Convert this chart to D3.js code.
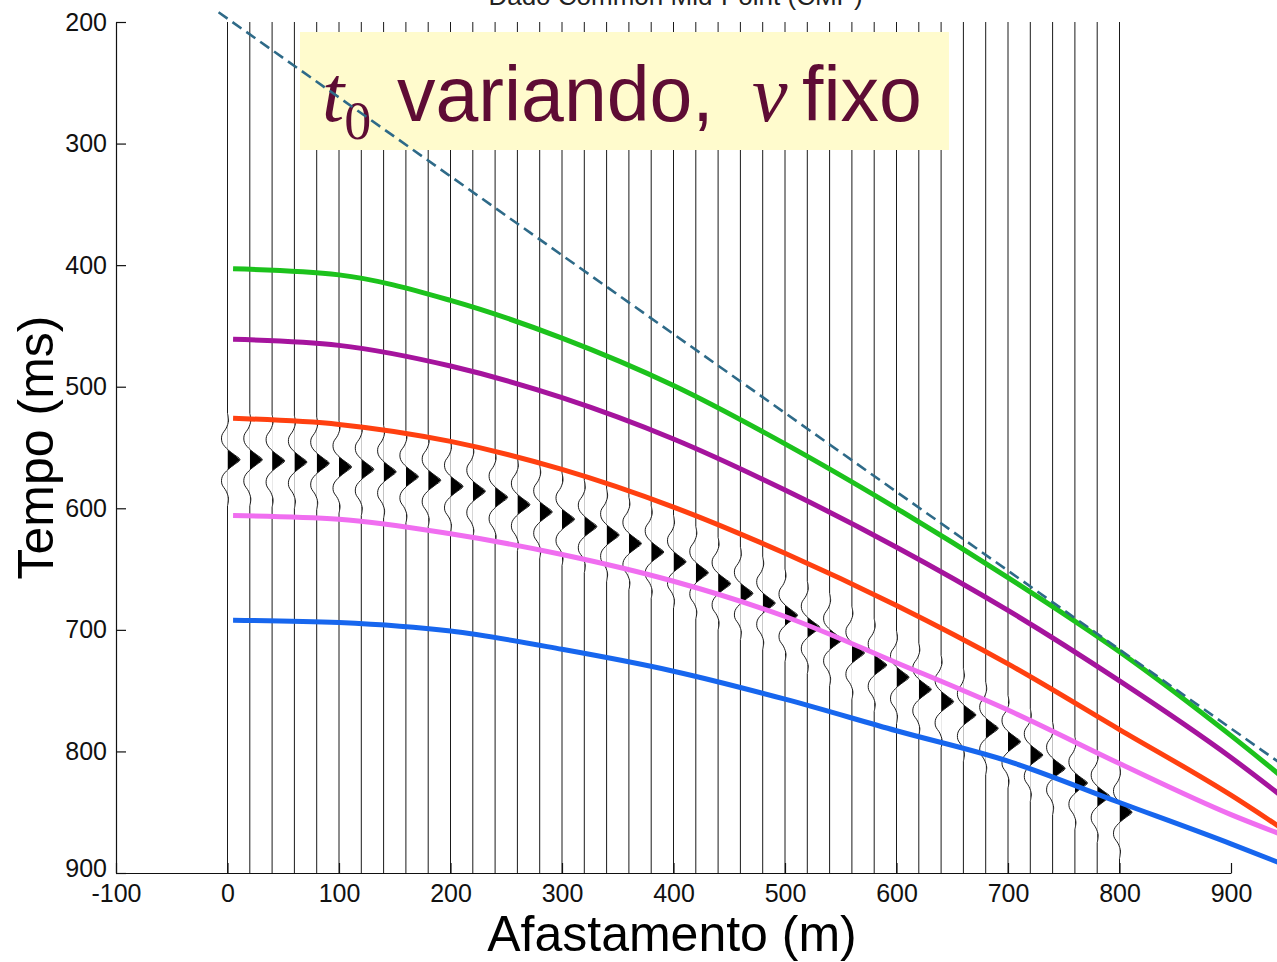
<!DOCTYPE html>
<html>
<head>
<meta charset="utf-8">
<script src="https://cdn.jsdelivr.net/npm/d3@7"></script>
<style>
  body { margin: 0; background: #ffffff; }
  svg { display: block; }
</style>
</head>
<body>
<svg id="chart" width="1277" height="962"></svg>
<script>
// ---- data -------------------------------------------------------------
// receiver offsets of the CMP traces (m)
const traceOffsets = [0, 20, 40, 60, 80, 100, 120, 140, 160, 180, 200, 220, 240, 260, 280,
  300, 320, 340, 360, 380, 400, 420, 440, 460, 480, 500, 520, 540, 560, 580, 600, 620, 640,
  660, 680, 700, 720, 740, 760, 780, 800];
// arrival time of the reflection peak on each trace (ms)
const wavePeakMs = [560, 560, 561, 562, 563, 566, 568, 570, 574, 577, 582, 586, 591, 597, 603,
  609, 615, 622, 629, 636, 644, 653, 662, 670, 678, 688, 698, 708, 719, 729, 739, 749, 759,
  770, 781, 792, 803, 814, 826, 837, 850];
// wavelet samples: lag from the peak (ms) and relative amplitude
const waveletLagMs = [-38, -32, -26, -20, -14, -8, -4, 0, 4, 8, 14, 20, 26, 32, 38];
const waveletAmp   = [0, 0.08, -0.1, -0.45, -0.42, 0.05, 0.55, 1, 0.55, 0.05, -0.42, -0.45, -0.1, 0.08, 0];

// traveltime curves for different t0 at a fixed velocity
const curveOffsets = [5, 100, 200, 300, 400, 500, 600, 700, 800, 900, 950];
const greenMs   = [403, 408, 429, 460, 499, 547, 600, 657, 718, 787, 824];
const magentaMs = [461, 466, 483, 509, 543, 585, 632, 684, 742, 805, 840];
const orangeMs  = [526, 531, 545, 568, 599, 637, 680, 728, 782, 836, 866];
const pinkMs    = [606, 609, 621, 638, 660, 689, 727, 766, 810, 852, 870];
const blueMs    = [692, 694, 701, 716, 734, 757, 783, 808, 842, 876, 894];

// direct-arrival guide line (offset m, time ms)
const guideOffsets = [-8, 960];
const guideMs = [192, 820];

const xTicks = [-100, 0, 100, 200, 300, 400, 500, 600, 700, 800, 900];
const yTicks = [200, 300, 400, 500, 600, 700, 800, 900];

// ---- scales -----------------------------------------------------------
const svg = d3.select("#chart");
svg.append("rect").attr("width", 1277).attr("height", 962).attr("fill", "#ffffff");

const x = d3.scaleLinear().domain([-100, 900]).range([116, 1231]);
const y = d3.scaleLinear().domain([200, 900]).range([22, 873]);

const sans = "'Liberation Sans', Arial, Helvetica, sans-serif";
const serif = "'Liberation Serif', 'Times New Roman', serif";

// ---- title (top of the figure) -----------------------------------------
svg.append("text")
  .attr("x", x(400) + 2).attr("y", 5)
  .attr("text-anchor", "middle")
  .attr("font-family", sans).attr("font-size", 26).attr("fill", "#222")
  .text("Dado Common Mid-Point (CMP)");

// ---- wiggle traces ----------------------------------------------------
const ampPx = 12.5;
const defs = svg.append("defs");
const traces = svg.append("g").attr("class", "traces");
const lagMin = d3.min(waveletLagMs), lagMax = d3.max(waveletLagMs);

traceOffsets.forEach((off, i) => {
  const x0 = x(off);
  const peak = wavePeakMs[i];
  const pts = waveletLagMs.map((lag, k) => ({ t: peak + lag, a: waveletAmp[k] }));

  // straight parts of the trace above and below the wavelet
  traces.append("line")
    .attr("x1", x0).attr("x2", x0)
    .attr("y1", y(200)).attr("y2", y(peak + lagMin))
    .attr("stroke", "#1a1a1a").attr("stroke-width", 1);
  traces.append("line")
    .attr("x1", x0).attr("x2", x0)
    .attr("y1", y(peak + lagMax)).attr("y2", y(900))
    .attr("stroke", "#1a1a1a").attr("stroke-width", 1);

  // positive lobe filled black (area clipped to the right of the trace axis)
  const cid = "clip-tr-" + i;
  defs.append("clipPath").attr("id", cid)
    .append("rect")
    .attr("x", x0).attr("y", y(peak + lagMin) - 2)
    .attr("width", 30).attr("height", y(peak + lagMax) - y(peak + lagMin) + 4);

  const area = d3.area()
    .y(d => y(d.t))
    .x0(x0)
    .x1(d => x0 + d.a * ampPx)
    .curve(d3.curveLinear);
  traces.append("path")
    .attr("d", area(pts))
    .attr("fill", "#000")
    .attr("clip-path", `url(#${cid})`);

  const line = d3.line()
    .x(d => x0 + d.a * ampPx)
    .y(d => y(d.t))
    .curve(d3.curveCatmullRom);
  traces.append("path")
    .attr("d", line(pts))
    .attr("fill", "none")
    .attr("stroke", "#1a1a1a")
    .attr("stroke-width", 1);
});

// ---- traveltime curves ------------------------------------------------
const curves = [
  { ms: greenMs,   color: "#1cc21c" },
  { ms: magentaMs, color: "#a5149d" },
  { ms: orangeMs,  color: "#ff4010" },
  { ms: pinkMs,    color: "#f06ef0" },
  { ms: blueMs,    color: "#1766ee" }
];
const curveLine = d3.line()
  .x(d => x(d[0]))
  .y(d => y(d[1]))
  .curve(d3.curveMonotoneX);

svg.append("g").attr("class", "curves")
  .selectAll("path")
  .data(curves)
  .join("path")
  .attr("d", c => curveLine(curveOffsets.map((o, k) => [o, c.ms[k]])))
  .attr("fill", "none")
  .attr("stroke", c => c.color)
  .attr("stroke-width", 5);

// ---- annotation box ---------------------------------------------------
svg.append("rect")
  .attr("x", 300).attr("y", 32)
  .attr("width", 649).attr("height", 118)
  .attr("fill", "#fffbcd");

const label = svg.append("text")
  .attr("y", 121)
  .attr("fill", "#5e0c34");
label.append("tspan")
  .attr("x", 322)
  .attr("font-family", serif).attr("font-style", "italic").attr("font-size", 80)
  .text("t");
label.append("tspan")
  .attr("dy", 18)
  .attr("font-family", serif).attr("font-size", 54)
  .text("0");
label.append("tspan")
  .attr("x", 397).attr("dy", -18)
  .attr("font-family", sans).attr("font-size", 77)
  .text("variando,");
label.append("tspan")
  .attr("x", 752)
  .attr("font-family", serif).attr("font-style", "italic").attr("font-size", 80)
  .text("v");
label.append("tspan")
  .attr("x", 802)
  .attr("font-family", sans).attr("font-size", 77)
  .text("fixo");

// ---- dashed guide line -----------------------------------------------
svg.append("path")
  .attr("d", d3.line().x(d => x(d[0])).y(d => y(d[1]))(guideOffsets.map((o, k) => [o, guideMs[k]])))
  .attr("fill", "none")
  .attr("stroke", "#2e6a88")
  .attr("stroke-width", 2.6)
  .attr("stroke-dasharray", "11,6");

// ---- axes -------------------------------------------------------------
const yAxis = d3.axisLeft(y)
  .tickValues(yTicks)
  .tickFormat(d => String(d))
  .tickSizeInner(-10).tickSizeOuter(0).tickPadding(9);
const gy = svg.append("g").attr("transform", `translate(${x(-100)},0)`).call(yAxis);

const xAxis = d3.axisBottom(x)
  .tickValues(xTicks)
  .tickFormat(d => String(d))
  .tickSizeInner(-10).tickSizeOuter(0).tickPadding(11);
const gx = svg.append("g").attr("transform", `translate(0,${y(900)})`).call(xAxis);

[gx, gy].forEach(g => {
  g.selectAll(".domain").attr("stroke", "#111").attr("stroke-width", 1.2);
  g.selectAll(".tick line").attr("stroke", "#111").attr("stroke-width", 1.2);
  g.selectAll(".tick text")
    .attr("font-family", sans).attr("font-size", 25).attr("fill", "#111");
});
// the lowest time label sits just above the first offset label
gy.selectAll(".tick text").filter(d => d === 900).attr("dy", "0.12em");

// axis titles
svg.append("text")
  .attr("transform", `translate(53,${(y(200) + y(900)) / 2}) rotate(-90)`)
  .attr("text-anchor", "middle")
  .attr("font-family", sans).attr("font-size", 50).attr("fill", "#000")
  .text("Tempo (ms)");

svg.append("text")
  .attr("x", 672).attr("y", 951)
  .attr("text-anchor", "middle")
  .attr("font-family", sans).attr("font-size", 50).attr("fill", "#000")
  .text("Afastamento (m)");
</script>
</body>
</html>
